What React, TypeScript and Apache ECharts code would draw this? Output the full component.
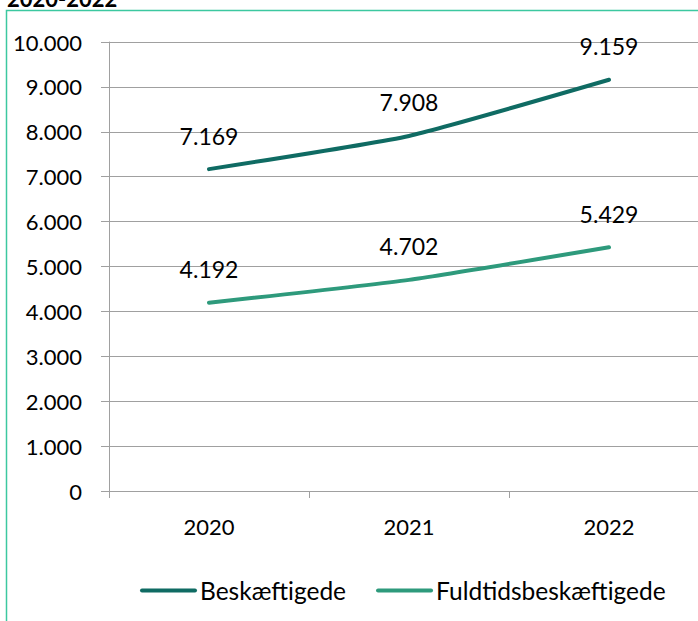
import React, { useEffect, useRef } from "react";
import * as echarts from "echarts";

const years = ["2020", "2021", "2022"];
const beskaeftigede = [7169, 7908, 9159];
const fuldtids = [4192, 4702, 5429];
const seriesNames = ["Beskæftigede", "Fuldtidsbeskæftigede"];
const titleText = "2020-2022";

const fmt = (v: number) => {
  const s = String(Math.round(v));
  return s.replace(/\B(?=(\d{3})+(?!\d))/g, ".");
};

const FONT = "Lato";

export default function App() {
  const ref = useRef<HTMLDivElement>(null);
  useEffect(() => {
    if (!ref.current) return;
    const chart = echarts.init(ref.current, null, { renderer: "svg" });
    const labelStyle = {
      show: true,
      position: "top" as const,
      distance: 22,
      color: "#000",
      fontFamily: FONT,
      fontSize: 23,
      formatter: (p: any) => fmt(p.value),
    };
    chart.setOption({
      animation: false,
      backgroundColor: "#fff",
      graphic: [
        {
          type: "rect",
          shape: { x: 6.5, y: 10.5, width: 900, height: 900 },
          style: { fill: "none", stroke: "#3cc8a0", lineWidth: 1.5 },
          silent: true,
        },
        {
          type: "text",
          x: 7,
          y: 9,
          style: {
            text: titleText,
            fontFamily: FONT,
            fontSize: 22,
            fontWeight: "bold",
            fill: "#000",
            verticalAlign: "bottom",
          },
        },
      ],
      grid: { left: 109, right: 11, top: 42, bottom: 130 },
      legend: {
        left: 135,
        top: 573,
        itemWidth: 53,
        itemHeight: 14,
        itemGap: 30,
        itemStyle: { opacity: 0 },
        lineStyle: { width: 4, cap: "round" },
        textStyle: { fontFamily: FONT, fontSize: 24.5, color: "#000" },
        data: seriesNames,
      },
      xAxis: {
        type: "category",
        data: years,
        boundaryGap: true,
        axisLine: { show: true, lineStyle: { color: "#a0a0a0", width: 1 } },
        axisTick: { show: true, length: 7, lineStyle: { color: "#a0a0a0" } },
        axisLabel: { margin: 24, color: "#000", fontFamily: FONT, fontSize: 22 },
      },
      yAxis: {
        type: "value",
        min: 0,
        max: 10000,
        interval: 1000,
        axisLine: { show: true, lineStyle: { color: "#a0a0a0", width: 1 } },
        axisTick: { show: true, length: 8, lineStyle: { color: "#a0a0a0" } },
        splitLine: { show: true, lineStyle: { color: "#a0a0a0", width: 1 } },
        axisLabel: {
          margin: 27,
          color: "#000",
          fontFamily: FONT,
          fontSize: 22,
          formatter: (v: number) => fmt(v),
        },
      },
      series: [
        {
          name: seriesNames[0],
          type: "line",
          data: beskaeftigede,
          symbol: "circle",
          symbolSize: 0,
          showSymbol: true,
          smooth: 0.15,
          lineStyle: { color: "#0f6b63", width: 4, cap: "round" },
          itemStyle: { color: "#0f6b63" },
          label: labelStyle,
        },
        {
          name: seriesNames[1],
          type: "line",
          data: fuldtids,
          symbol: "circle",
          symbolSize: 0,
          showSymbol: true,
          smooth: 0.15,
          lineStyle: { color: "#2e9a7c", width: 4, cap: "round" },
          itemStyle: { color: "#2e9a7c" },
          label: labelStyle,
        },
      ],
    });
    return () => chart.dispose();
  }, []);
  return (
    <div
      style={{
        position: "fixed",
        left: 0,
        top: 0,
        width: 698,
        height: 621,
        overflow: "hidden",
      }}
    >
      <div ref={ref} style={{ width: 720, height: 621 }} />
    </div>
  );
}
